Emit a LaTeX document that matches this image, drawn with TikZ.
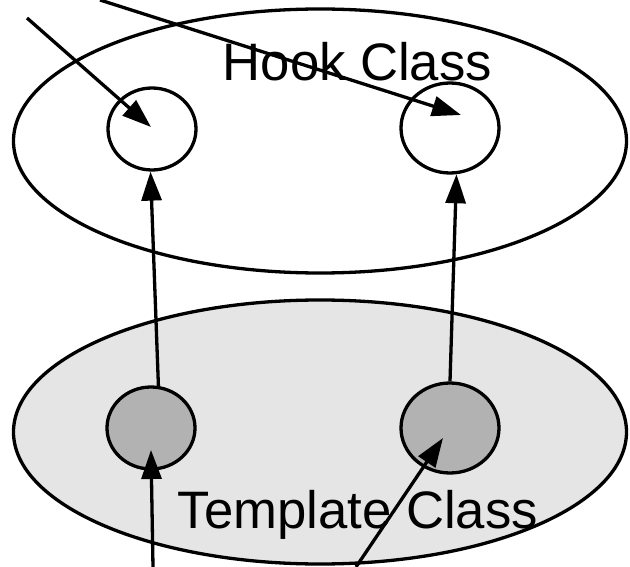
\documentclass[tikz,border=0pt]{standalone}
\usepackage{fontspec}
\setmainfont{Liberation Sans}
\usetikzlibrary{arrows.meta, shapes.geometric}
\tikzset{
    %Define standard arrow tip
    >={Triangle[length=29pt,width=20pt]},
}

\begin{document}
\begin{tikzpicture}[x=1pt, y=-1pt, line width=3.3pt,
    cls/.style = {draw, ellipse, inner sep=0pt,
                  minimum width=613pt, minimum height=264pt},
    slot/.style = {draw, ellipse, inner sep=0pt},
    lbl/.style = {anchor=base west, inner sep=0pt,
                  font=\fontsize{52.7}{60}\selectfont},
  ]
  \useasboundingbox (0,0) rectangle (630,567);
  \node[cls] (hook) at (320,141) {};
  \node[cls, fill=black!10] (template) at (320,432) {};
  \node[lbl] (hooklbl) at (221,81) {Hook Class};
  \node[lbl] (templatelbl) at (176,528) {Template Class};
  \node[slot, minimum width=88pt, minimum height=82pt] (hookA) at (152,129) {};
  \node[slot, minimum width=98pt, minimum height=90pt] (hookB) at (450,128) {};
  \node[slot, fill=black!30, minimum width=88pt, minimum height=82pt] (tmplA) at (151,428) {};
  \node[slot, fill=black!30, minimum width=98pt, minimum height=90pt] (tmplB) at (450,428) {};
  % outside callers
  \coordinate (inA) at (27,18);
  \coordinate (inB) at (100,0);
  \coordinate (outA) at (153,567);
  \coordinate (outB) at (356,567);
  \coordinate (hitA) at (151,127);
  \coordinate (hitB) at (461,115);
  \coordinate (hitC) at (151,450);
  \coordinate (hitD) at (443,438);
  \draw[->] (inA) -- (hitA);
  \draw[->] (inB) -- (hitB);
  \draw[->] (outA) -- (hitC);
  \draw[->] (outB) -- (hitD);
  \draw[->] (tmplA.80) -- (hookA.268);
  \draw[->] (tmplB.north) -- (hookB.278);

\end{tikzpicture}
\end{document}
